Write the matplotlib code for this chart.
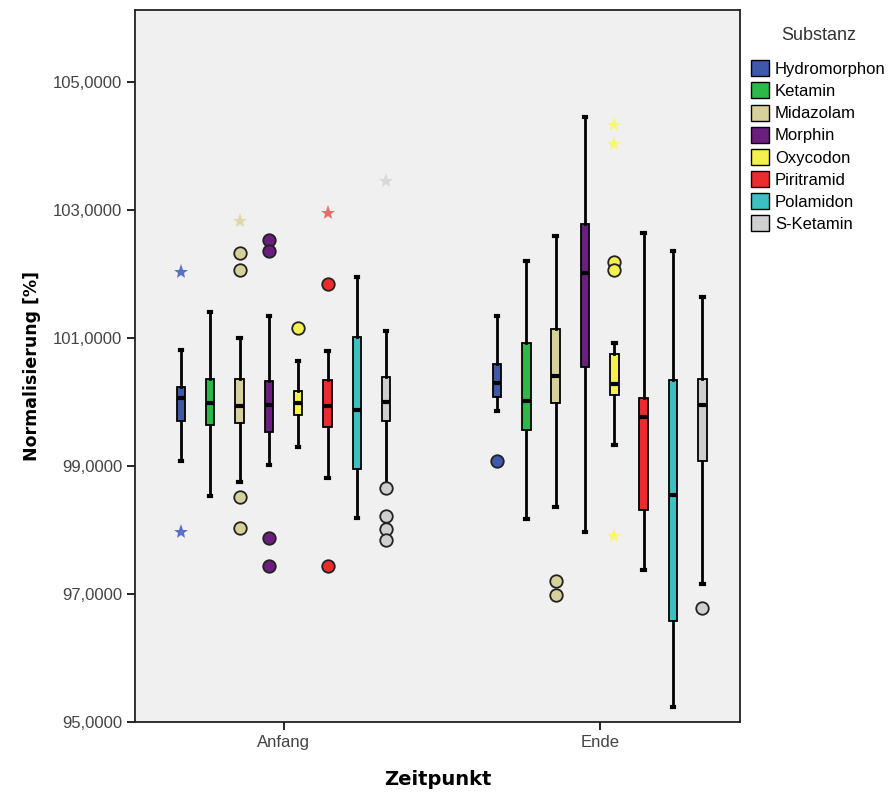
import matplotlib.pyplot as plt
from matplotlib.patches import Patch
import numpy as np

substances = ["Hydromorphon", "Ketamin", "Midazolam", "Morphin",
              "Oxycodon", "Piritramid", "Polamidon", "S-Ketamin"]
colors = ["#3E58AC", "#2DB84A", "#D6D19A", "#6B1E7E",
          "#F4F04E", "#EC2C2C", "#3CC0C4", "#CFCFCF"]
star_colors = ["#5A70C8", "#7ACB8A", "#DCD9AA", "#9A5AA8",
               "#F8F67A", "#F06A6A", "#7AD4D6", "#D8D8D8"]
timepoints = ["Anfang", "Ende"]

# box stats (whisker low, Q1, median, Q3, whisker high)
anfang_whislo = [99.08, 98.54, 98.75, 99.02, 99.30, 98.82, 98.19, 98.72]
anfang_q1 = [99.71, 99.64, 99.67, 99.53, 99.80, 99.61, 98.95, 99.71]
anfang_med = [100.07, 99.99, 99.94, 99.95, 99.99, 99.94, 99.87, 100.00]
anfang_q3 = [100.23, 100.36, 100.36, 100.33, 100.18, 100.34, 101.02, 100.39]
anfang_whishi = [100.82, 101.41, 101.01, 101.34, 100.65, 100.80, 101.96, 101.11]

ende_whislo = [99.86, 98.18, 98.36, 97.97, 99.33, 97.38, 95.24, 97.16]
ende_q1 = [100.08, 99.56, 99.99, 100.55, 100.11, 98.32, 96.58, 99.08]
ende_med = [100.30, 100.02, 100.41, 102.02, 100.28, 99.76, 98.55, 99.96]
ende_q3 = [100.60, 100.93, 101.15, 102.79, 100.75, 100.07, 100.34, 100.36]
ende_whishi = [101.35, 102.20, 102.60, 104.45, 100.93, 102.64, 102.36, 101.65]

# outliers (circles) and extremes (stars)
anfang_circles = [[], [], [102.33, 102.06, 98.52, 98.03], [102.53, 102.36, 97.88, 97.44],
                  [101.16], [101.85, 97.44], [], [98.66, 98.22, 98.02, 97.84]]
anfang_stars = [[102.04, 97.97], [], [102.83], [], [], [102.96], [], [103.45]]
ende_circles = [[99.08], [], [97.20, 96.99], [], [102.19, 102.06], [], [], [96.78]]
ende_stars = [[], [], [], [], [104.34, 104.03, 97.91], [], [], []]

groups = [
    (anfang_whislo, anfang_q1, anfang_med, anfang_q3, anfang_whishi, anfang_circles, anfang_stars),
    (ende_whislo, ende_q1, ende_med, ende_q3, ende_whishi, ende_circles, ende_stars),
]

fig = plt.figure(figsize=(8.88, 7.96), dpi=100)
ax = fig.add_axes([0.152, 0.093, 0.681, 0.894])
ax.set_facecolor("#F0F0F0")

step = 0.0928
width = 0.027
n = len(substances)
for g, (wlo, q1, med, q3, whi, circ, stars) in enumerate(groups):
    for i in range(n):
        pos = g + (i - (n - 1) / 2) * step
        stats = [dict(whislo=wlo[i], q1=q1[i], med=med[i], q3=q3[i], whishi=whi[i], fliers=[])]
        ax.bxp(stats, positions=[pos], widths=width, patch_artist=True, showfliers=False,
               capwidths=0.008,
               boxprops=dict(facecolor=colors[i], edgecolor="black", linewidth=1.3),
               medianprops=dict(color="black", linewidth=3, solid_capstyle="butt"),
               whiskerprops=dict(color="black", linewidth=2),
               capprops=dict(color="black", linewidth=3))
        if circ[i]:
            ax.plot([pos] * len(circ[i]), circ[i], "o", ms=9, mfc=colors[i],
                    mec="#222222", mew=1.3, zorder=4)
        if stars[i]:
            ax.plot([pos] * len(stars[i]), stars[i], "*", ms=11, color=star_colors[i],
                    mew=0, zorder=4)

ax.set_xlim(-0.47, 1.443)
ax.set_ylim(95, 106.125)
ax.set_xticks([0, 1])
ax.set_xticklabels(timepoints)
yt = np.arange(95, 106, 2)
ax.set_yticks(yt)
ax.set_yticklabels([f"{v:.4f}".replace(".", ",") for v in yt])
ax.tick_params(axis="both", direction="out", length=6, width=1.2,
               labelsize=12, labelcolor="#444444")
ax.tick_params(axis="y", pad=3)
for lab in ax.get_xticklabels() + ax.get_yticklabels():
    lab.set_family("Liberation Sans")
for s in ax.spines.values():
    s.set_linewidth(1.3)
    s.set_color("#222222")

ax.set_ylabel("Normalisierung [%]", fontsize=12.5, fontweight="bold", labelpad=9)
ax.set_xlabel("Zeitpunkt", fontsize=14, fontweight="bold", labelpad=14)

handles = [Patch(facecolor=c, edgecolor="black", linewidth=1) for c in colors]
leg = ax.legend(handles, substances, title="Substanz", loc="upper left",
                bbox_to_anchor=(0.838, 0.975), bbox_transform=fig.transFigure,
                frameon=False, handlelength=1.1, handleheight=1.1,
                handletextpad=0.35, labelspacing=0.33,
                prop={"family": "Liberation Sans", "size": 12},
                borderaxespad=0)
leg.get_title().set_fontfamily("Liberation Sans")
leg.get_title().set_fontsize(13)
leg.get_title().set_color("#333333")
leg._legend_box.sep = 12

fig.savefig("out.png", dpi=100)
